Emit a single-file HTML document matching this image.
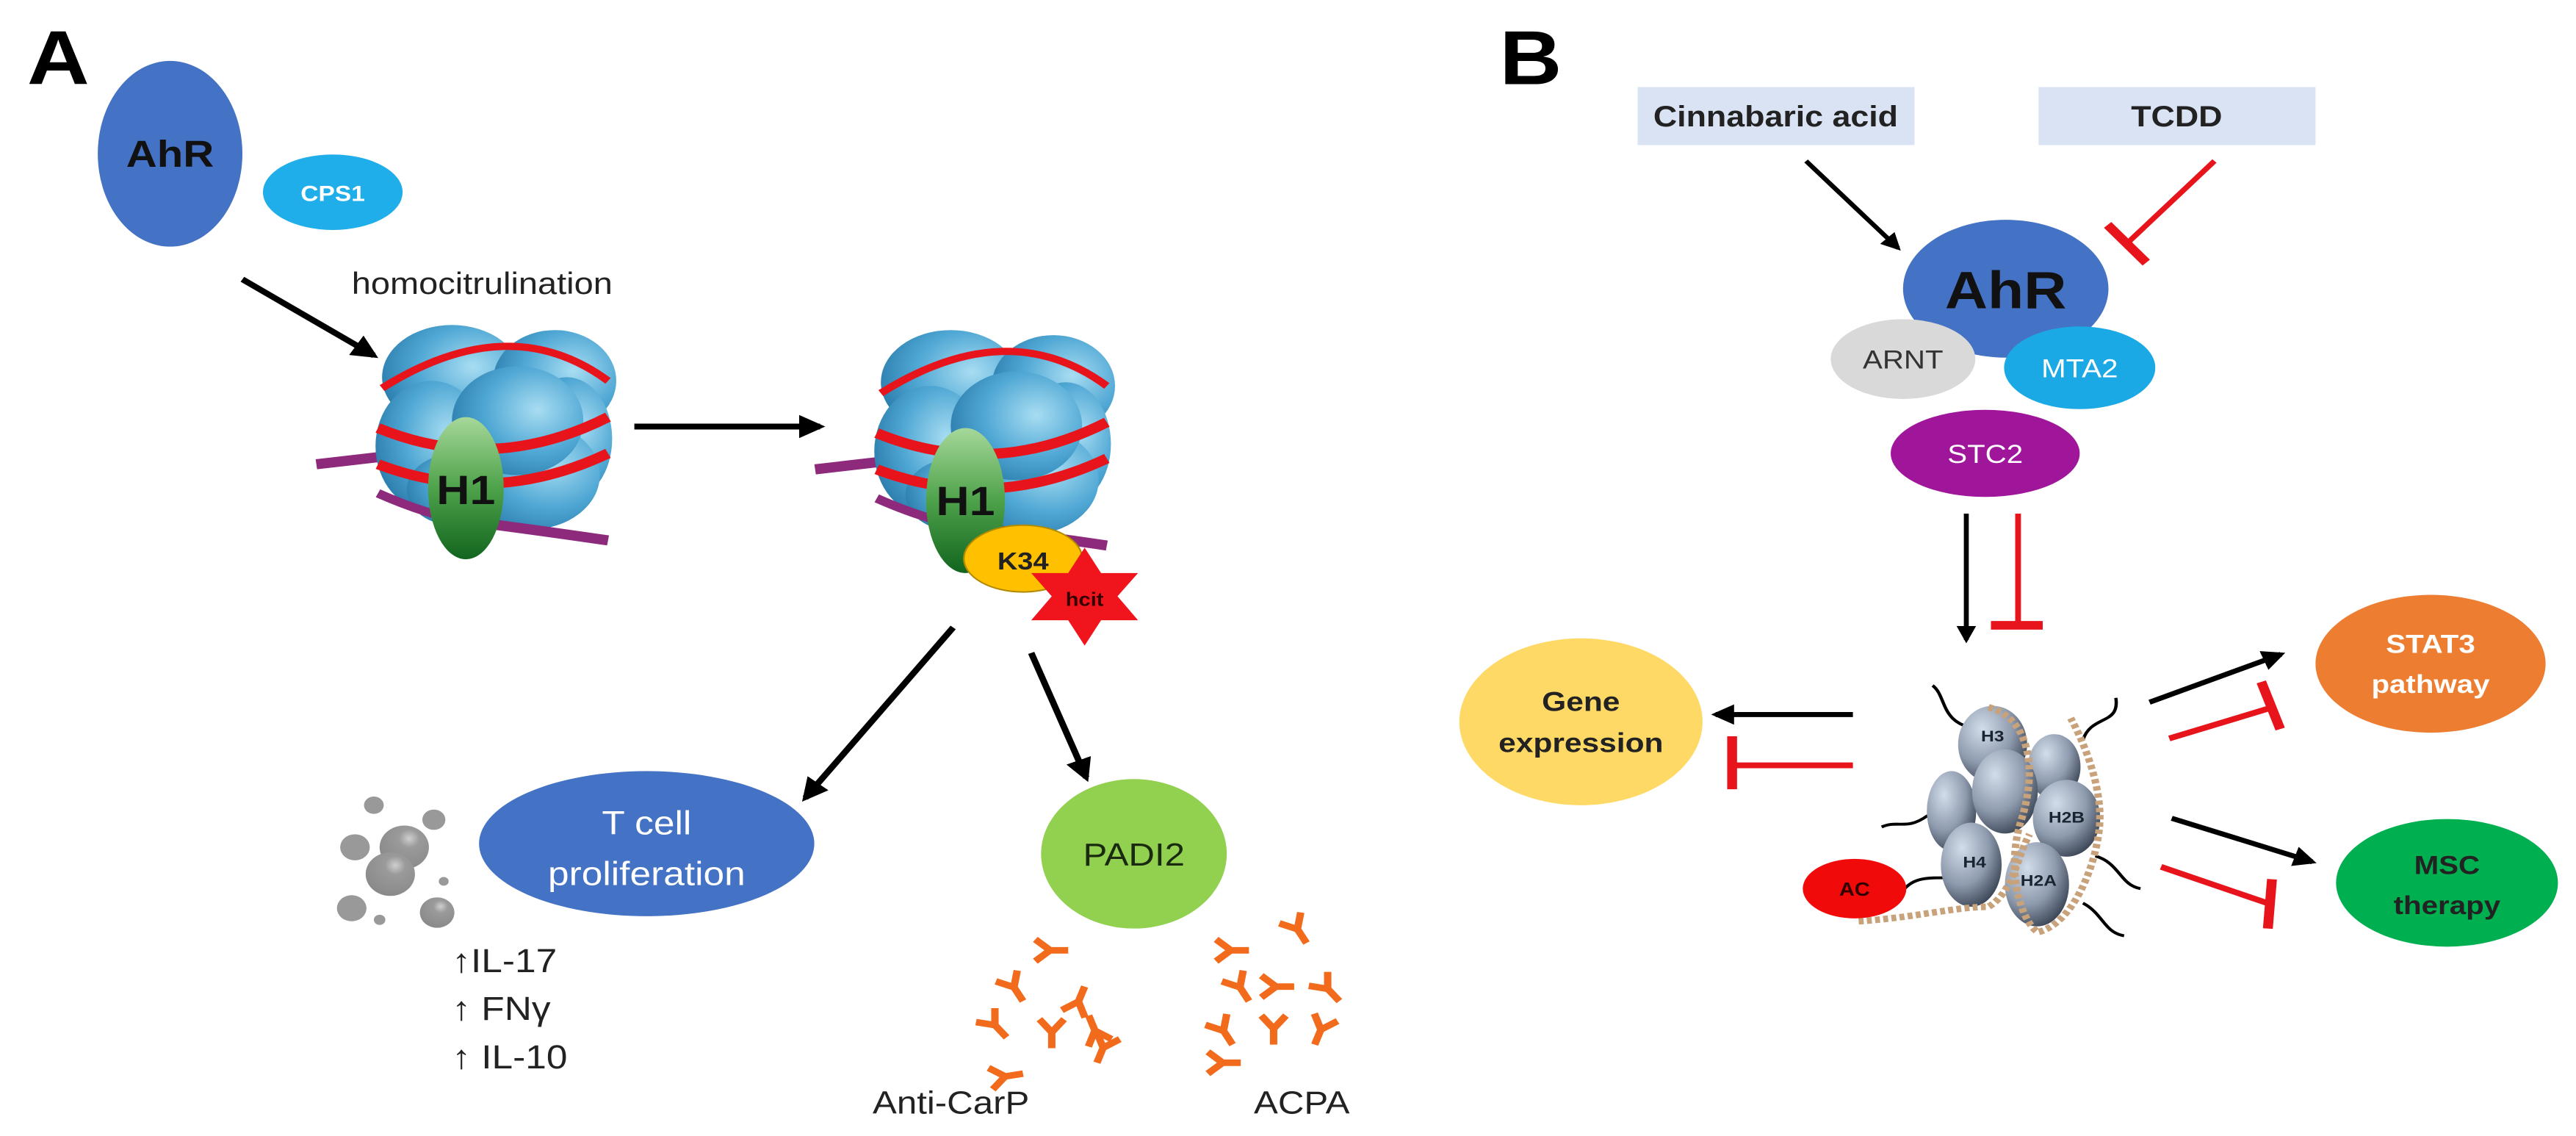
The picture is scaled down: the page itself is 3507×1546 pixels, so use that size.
<!DOCTYPE html>
<html><head><meta charset="utf-8"><style>
html,body{margin:0;padding:0;background:#fff;}
svg{display:block;}
text{font-family:"Liberation Sans",sans-serif;}
</style></head><body>
<svg width="3507" height="1546" viewBox="0 0 3135 1566" preserveAspectRatio="none" xmlns="http://www.w3.org/2000/svg">
<defs>
<radialGradient id="bl" cx="0.65" cy="0.4" r="0.8"><stop offset="0" stop-color="#A8DDF2"/><stop offset="0.5" stop-color="#4FA7D4"/><stop offset="1" stop-color="#1F6E9E"/></radialGradient>
<linearGradient id="gr" x1="0" y1="0" x2="0" y2="1"><stop offset="0" stop-color="#A6D89A"/><stop offset="0.5" stop-color="#4EA24A"/><stop offset="1" stop-color="#12651E"/></linearGradient>
<radialGradient id="gy" cx="0.35" cy="0.3" r="0.8"><stop offset="0" stop-color="#D3DDEA"/><stop offset="0.55" stop-color="#8E9BAE"/><stop offset="1" stop-color="#2E3848"/></radialGradient>
<radialGradient id="bub" cx="0.6" cy="0.3" r="0.7"><stop offset="0" stop-color="#cfcfcf"/><stop offset="0.3" stop-color="#9a9a9a"/><stop offset="1" stop-color="#8a8a8a"/></radialGradient>
<marker id="ah" viewBox="0 0 10 10" refX="8" refY="5" markerWidth="4" markerHeight="4" orient="auto"><path d="M0,0 L10,5 L0,10 Z" fill="#000"/></marker>
<g id="ab"><path d="M0,0 L0,-24 M0,-22 L-15,-40 M0,-22 L15,-40" stroke="#F26B1D" stroke-width="9" fill="none"/></g>
<g id="nuc">
<path d="M-215,45 L-100,30" stroke="#8E2A7C" stroke-width="14" fill="none"/>
<ellipse cx="-50" cy="-75" rx="85" ry="72" fill="url(#bl)"/>
<ellipse cx="75" cy="-70" rx="75" ry="70" fill="url(#bl)"/>
<ellipse cx="-75" cy="20" rx="68" ry="90" fill="url(#bl)"/>
<ellipse cx="-45" cy="80" rx="60" ry="50" fill="url(#bl)"/>
<ellipse cx="90" cy="10" rx="55" ry="85" fill="url(#bl)"/>
<ellipse cx="45" cy="60" rx="85" ry="75" fill="url(#bl)"/>
<ellipse cx="30" cy="-15" rx="80" ry="75" fill="url(#bl)"/>
<path d="M-135,-60 Q20,-170 140,-70" stroke="#E8141C" stroke-width="10" fill="none"/>
<path d="M-140,-5 Q0,60 140,-20" stroke="#E8141C" stroke-width="14" fill="none"/>
<path d="M-140,45 Q0,105 140,30" stroke="#E8141C" stroke-width="14" fill="none"/>
<path d="M-140,85 Q-60,125 0,128" stroke="#8E2A7C" stroke-width="12" fill="none"/>
<path d="M0,128 Q80,140 140,150" stroke="#8E2A7C" stroke-width="14" fill="none"/>
</g>
</defs>

<!-- Panel A -->
<text x="33" y="116" font-size="105" font-weight="bold">A</text>
<ellipse cx="207" cy="212" rx="88" ry="128" fill="#4472C4"/>
<text x="207" y="230" font-size="52" font-weight="bold" text-anchor="middle" fill="#111">AhR</text>
<ellipse cx="405" cy="265" rx="85" ry="52" fill="#1FAEEA"/>
<text x="405" y="277" font-size="30" font-weight="bold" text-anchor="middle" fill="#fff">CPS1</text>
<text x="428" y="405" font-size="42" fill="#222">homocitrulination</text>
<line x1="295" y1="385" x2="455" y2="490" stroke="#000" stroke-width="8" marker-end="url(#ah)"/>

<use href="#nuc" x="600" y="595"/>
<ellipse cx="567" cy="673" rx="46" ry="98" fill="url(#gr)"/>
<text x="567" y="695" font-size="56" font-weight="bold" text-anchor="middle" fill="#111">H1</text>
<line x1="772" y1="588" x2="998" y2="588" stroke="#000" stroke-width="8" marker-end="url(#ah)"/>

<use href="#nuc" x="1207" y="602"/>
<ellipse cx="1175" cy="690" rx="48" ry="100" fill="url(#gr)"/>
<text x="1175" y="710" font-size="56" font-weight="bold" text-anchor="middle" fill="#111">H1</text>
<ellipse cx="1245" cy="770" rx="72" ry="46" fill="#FFC000" stroke="#B08A00" stroke-width="2"/>
<text x="1245" y="785" font-size="34" font-weight="bold" text-anchor="middle" fill="#222">K34</text>
<polygon points="1320,755 1340,790 1385,790 1360,822 1385,855 1340,855 1320,890 1300,855 1255,855 1280,822 1255,790 1300,790" fill="#F0141C"/>
<text x="1320" y="835" font-size="26" font-weight="bold" text-anchor="middle" fill="#300">hcit</text>

<line x1="1160" y1="865" x2="980" y2="1100" stroke="#000" stroke-width="8" marker-end="url(#ah)"/>
<line x1="1255" y1="900" x2="1322" y2="1072" stroke="#000" stroke-width="8" marker-end="url(#ah)"/>

<ellipse cx="787" cy="1163" rx="204" ry="100" fill="#4472C4"/>
<text x="787" y="1150" font-size="46" text-anchor="middle" fill="#fff">T cell</text>
<text x="787" y="1220" font-size="46" text-anchor="middle" fill="#fff">proliferation</text>

<circle cx="455" cy="1110" r="12" fill="#999"/>
<circle cx="528" cy="1130" r="14" fill="#999"/>
<circle cx="432" cy="1168" r="18" fill="#999"/>
<circle cx="492" cy="1168" r="30" fill="url(#bub)"/>
<circle cx="475" cy="1205" r="30" fill="url(#bub)"/>
<circle cx="540" cy="1215" r="6" fill="#999"/>
<circle cx="428" cy="1252" r="18" fill="#999"/>
<circle cx="462" cy="1268" r="7" fill="#999"/>
<circle cx="532" cy="1258" r="21" fill="url(#bub)"/>

<text x="550" y="1340" font-size="46" fill="#222">↑IL-17</text>
<text x="550" y="1406" font-size="46" fill="#222">↑ FNγ</text>
<text x="550" y="1473" font-size="46" fill="#222">↑ IL-10</text>

<ellipse cx="1380" cy="1177" rx="113" ry="103" fill="#92D050"/>
<text x="1380" y="1193" font-size="44" text-anchor="middle" fill="#1a2a10">PADI2</text>

<use href="#ab" transform="translate(1300,1310) rotate(-90)"/>
<use href="#ab" transform="translate(1245,1380) rotate(-30)"/>
<use href="#ab" transform="translate(1320,1360) rotate(200)"/>
<use href="#ab" transform="translate(1225,1430) rotate(-40)"/>
<use href="#ab" transform="translate(1280,1445) rotate(0)"/>
<use href="#ab" transform="translate(1325,1400) rotate(160)"/>
<use href="#ab" transform="translate(1245,1480) rotate(-100)"/>
<use href="#ab" transform="translate(1335,1465) rotate(20)"/>
<use href="#ab" transform="translate(1520,1310) rotate(-90)"/>
<use href="#ab" transform="translate(1520,1380) rotate(-30)"/>
<use href="#ab" transform="translate(1500,1440) rotate(-30)"/>
<use href="#ab" transform="translate(1550,1440) rotate(0)"/>
<use href="#ab" transform="translate(1510,1465) rotate(-90)"/>
<use href="#ab" transform="translate(1590,1300) rotate(-30)"/>
<use href="#ab" transform="translate(1575,1360) rotate(-90)"/>
<use href="#ab" transform="translate(1600,1440) rotate(20)"/>
<use href="#ab" transform="translate(1630,1380) rotate(-40)"/>
<text x="1062" y="1535" font-size="44" fill="#222">Anti-CarP</text>
<text x="1526" y="1535" font-size="44" fill="#222">ACPA</text>

<!-- Panel B -->
<text x="1825" y="116" font-size="105" font-weight="bold">B</text>
<rect x="1993" y="120" width="337" height="80" fill="#DAE3F3"/>
<text x="2161" y="174" font-size="40" font-weight="bold" text-anchor="middle" fill="#222">Cinnabaric acid</text>
<rect x="2481" y="120" width="337" height="80" fill="#DAE3F3"/>
<text x="2649" y="174" font-size="40" font-weight="bold" text-anchor="middle" fill="#222">TCDD</text>
<line x1="2198" y1="222" x2="2310" y2="342" stroke="#000" stroke-width="6" marker-end="url(#ah)"/>
<line x1="2695" y1="222" x2="2590" y2="334" stroke="#E8141C" stroke-width="7"/>
<line x1="2565" y1="310" x2="2612" y2="362" stroke="#E8141C" stroke-width="12"/>

<ellipse cx="2441" cy="398" rx="125" ry="95" fill="#4472C4"/>
<text x="2441" y="425" font-size="72" font-weight="bold" text-anchor="middle" fill="#111">AhR</text>
<ellipse cx="2316" cy="495" rx="88" ry="55" fill="#D9D9D9"/>
<text x="2316" y="508" font-size="36" text-anchor="middle" fill="#333">ARNT</text>
<ellipse cx="2531" cy="507" rx="92" ry="57" fill="#1BA9E6"/>
<text x="2531" y="520" font-size="36" text-anchor="middle" fill="#fff">MTA2</text>
<ellipse cx="2416" cy="625" rx="115" ry="60" fill="#A0169B"/>
<text x="2416" y="638" font-size="36" text-anchor="middle" fill="#fff">STC2</text>

<line x1="2393" y1="708" x2="2393" y2="882" stroke="#000" stroke-width="6" marker-end="url(#ah)"/>
<line x1="2456" y1="708" x2="2456" y2="860" stroke="#E8141C" stroke-width="7"/>
<line x1="2423" y1="862" x2="2486" y2="862" stroke="#E8141C" stroke-width="12"/>

<ellipse cx="1924" cy="995" rx="148" ry="115" fill="#FFD966"/>
<text x="1924" y="980" font-size="38" font-weight="bold" text-anchor="middle" fill="#222">Gene</text>
<text x="1924" y="1037" font-size="38" font-weight="bold" text-anchor="middle" fill="#222">expression</text>
<line x1="2255" y1="985" x2="2088" y2="985" stroke="#000" stroke-width="7" marker-end="url(#ah)"/>
<line x1="2255" y1="1055" x2="2108" y2="1055" stroke="#E8141C" stroke-width="8"/>
<line x1="2108" y1="1015" x2="2108" y2="1088" stroke="#E8141C" stroke-width="12"/>

<ellipse cx="2958" cy="915" rx="140" ry="95" fill="#ED7D31"/>
<text x="2958" y="900" font-size="36" font-weight="bold" text-anchor="middle" fill="#fff">STAT3</text>
<text x="2958" y="955" font-size="36" font-weight="bold" text-anchor="middle" fill="#fff">pathway</text>
<ellipse cx="2978" cy="1217" rx="135" ry="88" fill="#00B050"/>
<text x="2978" y="1205" font-size="36" font-weight="bold" text-anchor="middle" fill="#222">MSC</text>
<text x="2978" y="1260" font-size="36" font-weight="bold" text-anchor="middle" fill="#222">therapy</text>

<line x1="2616" y1="968" x2="2776" y2="902" stroke="#000" stroke-width="7" marker-end="url(#ah)"/>
<line x1="2640" y1="1018" x2="2766" y2="975" stroke="#E8141C" stroke-width="8"/>
<line x1="2752" y1="940" x2="2775" y2="1005" stroke="#E8141C" stroke-width="12"/>
<line x1="2643" y1="1128" x2="2814" y2="1188" stroke="#000" stroke-width="7" marker-end="url(#ah)"/>
<line x1="2630" y1="1195" x2="2762" y2="1246" stroke="#E8141C" stroke-width="8"/>
<line x1="2765" y1="1212" x2="2760" y2="1280" stroke="#E8141C" stroke-width="12"/>

<!-- nucleosome B -->
<g fill="none" stroke="#000" stroke-width="4">
<path d="M2352,945 C2370,960 2360,1000 2410,1005"/>
<path d="M2575,962 C2580,1000 2545,985 2535,1020"/>
<path d="M2290,1140 C2310,1130 2320,1145 2345,1125 L2365,1125"/>
<path d="M2550,1180 C2580,1190 2580,1220 2605,1225"/>
<path d="M2535,1245 C2560,1260 2560,1285 2585,1290"/>
<path d="M2318,1225 C2330,1210 2345,1210 2370,1210"/>
</g>
<ellipse cx="2375" cy="1118" rx="30" ry="55" fill="url(#gy)"/>
<ellipse cx="2500" cy="1057" rx="32" ry="45" fill="url(#gy)"/>
<ellipse cx="2425" cy="1026" rx="42" ry="53" fill="url(#gy)"/>
<ellipse cx="2440" cy="1091" rx="40" ry="58" fill="url(#gy)"/>
<ellipse cx="2515" cy="1128" rx="41" ry="53" fill="url(#gy)"/>
<ellipse cx="2399" cy="1192" rx="37" ry="58" fill="url(#gy)"/>
<ellipse cx="2479" cy="1219" rx="39" ry="58" fill="url(#gy)"/>
<g fill="none" stroke="#C8A27A" stroke-width="9" stroke-dasharray="6 4">
<path d="M2420,975 C2470,990 2480,1060 2460,1130 C2440,1200 2460,1270 2480,1285 C2520,1275 2550,1200 2555,1140 C2560,1080 2530,1010 2520,990"/>
<path d="M2262,1270 C2330,1265 2380,1250 2420,1250 C2450,1230 2455,1180 2470,1150"/>
</g>
<text x="2425" y="1022" font-size="22" font-weight="bold" text-anchor="middle" fill="#1a2430">H3</text>
<text x="2515" y="1134" font-size="22" font-weight="bold" text-anchor="middle" fill="#1a2430">H2B</text>
<text x="2403" y="1196" font-size="22" font-weight="bold" text-anchor="middle" fill="#1a2430">H4</text>
<text x="2481" y="1221" font-size="22" font-weight="bold" text-anchor="middle" fill="#1a2430">H2A</text>
<ellipse cx="2257" cy="1225" rx="63" ry="41" fill="#F00A0A"/>
<text x="2257" y="1235" font-size="26" font-weight="bold" text-anchor="middle" fill="#300">AC</text>
</svg>
</body></html>
